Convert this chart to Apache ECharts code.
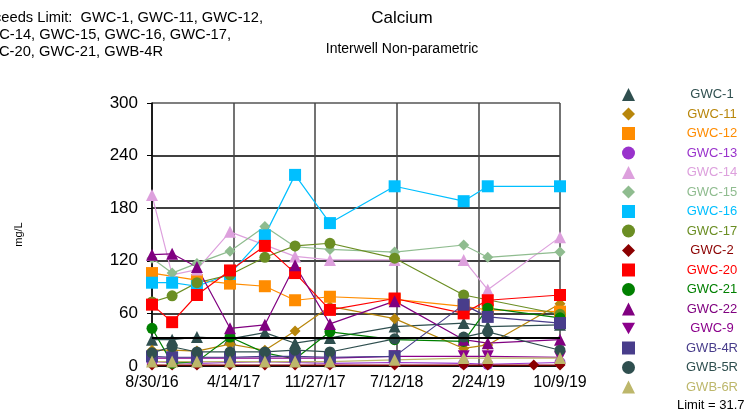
<!DOCTYPE html>
<html>
<head>
<meta charset="utf-8">
<script src="https://cdn.jsdelivr.net/npm/echarts@6/dist/echarts.min.js"></script>
<style>
  html, body { margin: 0; padding: 0; background: #fff; }
  #chart { width: 754px; height: 415px; }
</style>
</head>
<body>
<div id="chart"></div>
<script>
// sample dates and values (mg/L)
const dates = ['8/30/16', '10/25/16', '1/2/17', '4/4/17', '7/10/17', '10/2/17',
    '1/7/18', '7/6/18', '1/14/19', '3/22/19', '7/28/19', '10/9/19'];

const wellNames = ['GWC-1', 'GWC-11', 'GWC-12', 'GWC-13', 'GWC-14', 'GWC-15', 'GWC-16', 'GWC-17',
    'GWC-2', 'GWC-20', 'GWC-21', 'GWC-22', 'GWC-9', 'GWB-4R', 'GWB-5R', 'GWB-6R'];

const gwc1  = [30, 30, 33, 31, 38, 26, 32, 45, 49, 45, null, 47];
const gwc11 = [18, 18, 17, 25, 18, 40, 68, 54, 20, 24, null, 71];
const gwc12 = [106, null, 98, 94, 91, 75, 79, 76, 68, 64, null, 62];
const gwc13 = [5, 4, 3, 4, 5, 4, 3, 4, 3, 2, null, 4];
const gwc14 = [195, 104, 110, 153, null, 125, 121, 121, 121, 87, null, 147];
const gwc15 = [123, 106, 117, 131, 159, 136, 133, 130, 138, 124, null, 130];
const gwc16 = [95, 95, 91, 105, 149, 218, 163, 205, 188, 205, null, 205];
const gwc17 = [73, 80, 95, 104, 124, 137, 140, 123, 81, null, null, 59];
const gwc2  = [1, 1, 1, 1, 1, 1, 1, 1, 1, 1, 1, 1];
const gwc20 = [70, 50, 81, 109, 137, 106, 64, 77, 60, 75, null, 81];
const gwc21 = [43, 3, 5, 33, 15, 8, 39, 30, 28, 66, null, 55];
const gwc22 = [127, 128, 113, 43, 47, 115, 48, 74, 30, 26, null, 30];
const gwc9  = [9, 9, 9, 9, 9, 9, 9, 11, 11, 11, null, 10];
const gwb4r = [11, 10, 10, 10, 11, 11, 10, 11, 70, 56, null, 49];
const gwb5r = [15, 22, 16, 16, 16, 18, 16, 31, 33, 39, null, 18];
const gwb6r = [5, 5, 5, 5, 5, 5, 5, 7, 9, 9, null, 9];

const wellValues = [gwc1, gwc11, gwc12, gwc13, gwc14, gwc15, gwc16, gwc17,
    gwc2, gwc20, gwc21, gwc22, gwc9, gwb4r, gwb5r, gwb6r];

const wellColors = ['#2F4F4F', '#B8860B', '#FF8C00', '#9932CC', '#DDA0DD', '#8FBC8F', '#00BFFF', '#6B8E23',
    '#8B0000', '#FF0000', '#008000', '#800080', '#8B008B', '#483D8B', '#2F4F4F', '#BDB76B'];

const downTri = 'path://M0,0 L10,0 L5,9 Z';
const wellSymbols = ['triangle', 'diamond', 'rect', 'circle', 'triangle', 'diamond', 'rect', 'circle',
    'diamond', 'rect', 'circle', 'triangle', downTri, 'rect', 'circle', 'triangle'];

const yTicks = [0, 60, 120, 180, 240, 300];
const limit = 31.7;

const DAY = 86400000;
function toTime(s) {
    const p = s.split('/');
    return Date.UTC(2000 + Number(p[2]), Number(p[0]) - 1, Number(p[1]));
}
function fmtDate(t) {
    const d = new Date(t);
    return (d.getUTCMonth() + 1) + '/' + d.getUTCDate() + '/' + String(d.getUTCFullYear()).slice(2);
}

const xMin = toTime('8/30/16');
const step = 227 * DAY;
const font = 'Arial, "Liberation Sans", sans-serif';

const series = wellNames.map((name, i) => ({
    name: name,
    type: 'line',
    data: dates.map((d, j) => [toTime(d), wellValues[i][j]]).filter(p => p[1] !== null),
    symbol: wellSymbols[i],
    symbolSize: (wellSymbols[i] === 'diamond' || wellSymbols[i] === 'circle') ? 11 : 12,
    itemStyle: { color: wellColors[i] },
    lineStyle: { color: wellColors[i], width: 1.2 },
    animation: false,
    z: 3
}));

// the limit line
series[0].markLine = {
    silent: true,
    symbol: 'none',
    label: { show: false },
    lineStyle: { color: '#000', width: 2, type: 'solid' },
    data: [{ yAxis: limit }]
};

const chart = echarts.init(document.getElementById('chart'));
chart.setOption({
    backgroundColor: '#fff',
    animation: false,
    textStyle: { fontFamily: font },
    title: [
        { text: 'Calcium', left: 397, top: 5, textAlign: 'center',
          textStyle: { fontSize: 17, fontWeight: 'normal', color: '#000', fontFamily: font } },
        { text: 'Interwell Non-parametric', left: 397, top: 37, textAlign: 'center',
          textStyle: { fontSize: 14, fontWeight: 'normal', color: '#000', fontFamily: font } }
    ],
    grid: { left: 152, right: 194, top: 103, bottom: 49 },
    xAxis: {
        type: 'value',
        min: xMin,
        max: xMin + 5 * step,
        interval: step,
        axisLine: { show: true, lineStyle: { color: '#000', width: 1.5 } },
        axisTick: { show: false },
        axisLabel: { formatter: fmtDate, fontSize: 16, color: '#000', margin: 9, fontFamily: font },
        splitLine: { show: true, lineStyle: { color: '#444', width: 1.5 } }
    },
    yAxis: {
        type: 'value',
        min: yTicks[0],
        max: yTicks[yTicks.length - 1],
        interval: 60,
        name: 'mg/L',
        nameLocation: 'middle',
        nameGap: 128,
        nameTextStyle: { fontSize: 11, color: '#000', fontFamily: font },
        axisLine: { show: true, lineStyle: { color: '#000', width: 1.5 } },
        axisTick: { show: true, length: 5, lineStyle: { color: '#000' } },
        axisLabel: { fontSize: 17, color: '#000', margin: 14, fontFamily: font },
        splitLine: {
            show: true,
            lineStyle: { color: ['#000', '#000', '#000', '#000', '#000', '#555'], width: 1.5 }
        }
    },
    legend: {
        orient: 'vertical',
        left: 617,
        top: 83,
        itemWidth: 13,
        itemHeight: 13,
        itemGap: 6.5,
        selectedMode: false,
        formatter: name => '{c|' + name + '}',
        textStyle: {
            fontSize: 13,
            fontFamily: font,
            rich: { c: { width: 144, align: 'center', fontSize: 13, fontFamily: font } }
        },
        data: wellNames.map((n, i) => ({
            name: n,
            icon: wellSymbols[i],
            itemStyle: { color: wellColors[i] },
            textStyle: { color: wellColors[i] }
        }))
    },
    graphic: [
        { type: 'text', right: 491, top: 10,
          style: { text: 'Exceeds Limit:  GWC-1, GWC-11, GWC-12,', font: '14.7px ' + font, fill: '#000' } },
        { type: 'text', right: 523, top: 27,
          style: { text: 'GWC-14, GWC-15, GWC-16, GWC-17,', font: '14.7px ' + font, fill: '#000' } },
        { type: 'text', right: 591, top: 44,
          style: { text: 'GWC-20, GWC-21, GWB-4R', font: '14.7px ' + font, fill: '#000' } },
        { type: 'text', left: 677, top: 399,
          style: { text: 'Limit = ' + limit, font: '13px ' + font, fill: '#000' } }
    ],
    series: series
});
</script>
</body>
</html>
